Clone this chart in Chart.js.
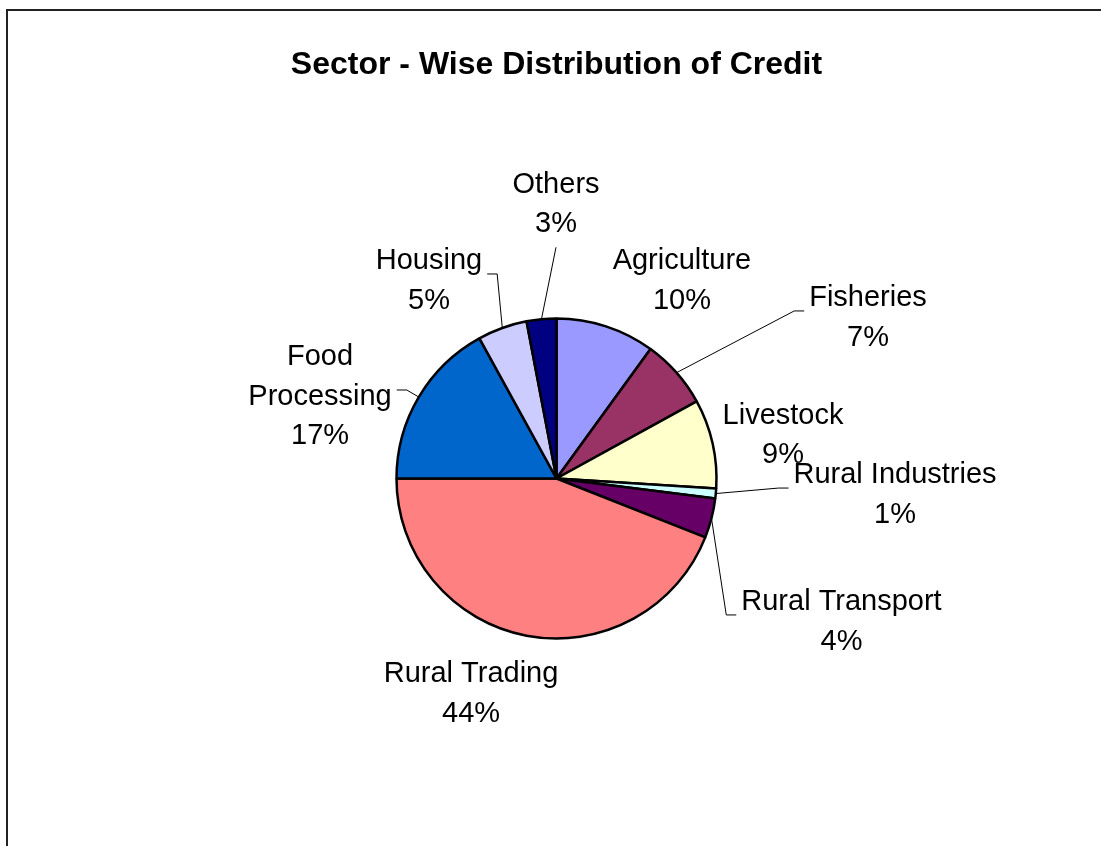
<!DOCTYPE html>
<html>
<head>
<meta charset="utf-8">
<script src="https://cdn.jsdelivr.net/npm/chart.js@4.4.1/dist/chart.umd.min.js"></script>
<style>
  html, body { margin: 0; padding: 0; background: #fff; }
  #wrap { width: 1101px; height: 846px; }
</style>
</head>
<body>
<div id="wrap"><canvas id="myChart" width="1101" height="846"></canvas></div>
<script>
const categories = ["Agriculture", "Fisheries", "Livestock", "Rural Industries", "Rural Transport",
  "Rural Trading", "Food Processing", "Housing", "Others"];
const shares = [10, 7, 9, 1, 4, 44, 17, 5, 3];
const sliceColors = ["#9999FF", "#993366", "#FFFFCC", "#CCFFFF", "#660066",
  "#FF8080", "#0066CC", "#CCCCFF", "#000080"];

// label block centre, in units of the pie radius from the pie centre
const labelPlace = [
  { fx: 0.784, fy: -1.247, leader: null },
  { fx: 1.947, fy: -1.016, leader: "left" },
  { fx: 1.416, fy: -0.281, leader: null },
  { fx: 2.116, fy: 0.091, leader: "left" },
  { fx: 1.781, fy: 0.884, leader: "left" },
  { fx: -0.534, fy: 1.334, leader: null },
  { fx: -1.478, fy: -0.522, leader: "right", split: true },
  { fx: -0.797, fy: -1.247, leader: "right" },
  { fx: -0.003, fy: -1.725, leader: "bottom" },
];

const LINE_GAP = 39.5;

const frame = {
  id: "frame",
  beforeDraw(chart) {
    const ctx = chart.ctx;
    ctx.save();
    ctx.fillStyle = "#fff";
    ctx.fillRect(0, 0, chart.width, chart.height);
    ctx.strokeStyle = "#222";
    ctx.lineWidth = 2;
    ctx.strokeRect(7, 10, chart.width + 20, chart.height + 20);
    ctx.restore();
  }
};

const sliceLabels = {
  id: "sliceLabels",
  afterDatasetsDraw(chart) {
    const ctx = chart.ctx;
    const meta = chart.getDatasetMeta(0);
    const total = shares.reduce((a, b) => a + b, 0);
    ctx.save();
    ctx.font = '29px "Liberation Sans", Arial, sans-serif';
    ctx.fillStyle = "#000";
    ctx.strokeStyle = "#000";
    ctx.lineWidth = 1;
    ctx.textAlign = "center";
    ctx.textBaseline = "alphabetic";
    meta.data.forEach((arc, i) => {
      const p = arc.getProps(["x", "y", "outerRadius", "startAngle", "endAngle"], true);
      const place = labelPlace[i];
      const cx = p.x + place.fx * p.outerRadius;
      const cy = p.y + place.fy * p.outerRadius;
      const name = place.split ? categories[i].split(" ") : [categories[i]];
      const lines = name.concat([Math.round(shares[i] / total * 100) + "%"]);
      const first = cy + 10 - (lines.length - 1) * LINE_GAP / 2;
      let w = 0;
      lines.forEach((t, k) => {
        ctx.fillText(t, cx, first + k * LINE_GAP);
        w = Math.max(w, ctx.measureText(t).width);
      });

      if (!place.leader) return;
      const mid = (p.startAngle + p.endAngle) / 2;
      const ex = p.x + Math.cos(mid) * p.outerRadius;
      const ey = p.y + Math.sin(mid) * p.outerRadius;
      ctx.beginPath();
      if (place.leader === "bottom") {
        ctx.moveTo(cx, first + (lines.length - 1) * LINE_GAP + 15);
      } else {
        const dir = place.leader === "left" ? -1 : 1;
        const sx = cx + dir * (w / 2 + 5);
        const sy = cy - 5;
        ctx.moveTo(sx, sy);
        ctx.lineTo(sx + dir * 10, sy);
      }
      ctx.lineTo(ex, ey);
      ctx.stroke();
    });
    ctx.restore();
  }
};

new Chart(document.getElementById("myChart").getContext("2d"), {
  type: "pie",
  data: {
    labels: categories,
    datasets: [{
      data: shares,
      backgroundColor: sliceColors,
      borderColor: "#000",
      borderWidth: 2.5,
      radius: 160,
    }],
  },
  options: {
    responsive: false,
    animation: false,
    events: [],
    layout: { padding: { left: 12, right: 0, top: 0, bottom: 19 } },
    plugins: {
      legend: { display: false },
      tooltip: { enabled: false },
      title: {
        display: true,
        text: "Sector - Wise Distribution of Credit",
        color: "#000",
        font: { family: '"Liberation Sans", Arial, sans-serif', size: 32, weight: "bold" },
        padding: { top: 46, bottom: 45.6 },
      },
    },
  },
  plugins: [frame, sliceLabels],
});
</script>
</body>
</html>
